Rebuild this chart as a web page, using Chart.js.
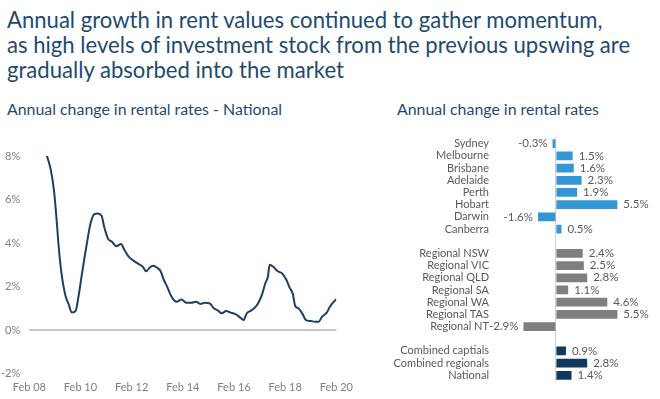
<!DOCTYPE html>
<html>
<head>
<meta charset="utf-8">
<script src="https://cdn.jsdelivr.net/npm/chart.js@4.4.1/dist/chart.umd.min.js"></script>
<style>
  body { margin: 0; background: #fff; font-family: Lato, sans-serif; }
  #page { position: relative; width: 660px; height: 399px; overflow: hidden; }
  .title { position: absolute; left: 7px; top: 7px; font-size: 22.1px; line-height: 25px; color: #1f4a70; white-space: nowrap; }
  .sub { position: absolute; top: 99px; font-size: 15.9px; color: #1f4a70; white-space: nowrap; }
  #lineBox { position: absolute; left: 0; top: 140px; width: 360px; height: 259px; }
  #barBox { position: absolute; left: 390px; top: 120px; width: 270px; height: 279px; }
</style>
</head>
<body>
<div id="page">
  <div class="title">Annual growth in rent values continued to gather momentum,<br>as high levels of investment stock from the previous upswing are<br>gradually absorbed into the market</div>
  <div class="sub" style="left:7px">Annual change in rental rates - National</div>
  <div class="sub" style="left:397px">Annual change in rental rates</div>
  <div id="lineBox"><canvas id="lineChart"></canvas></div>
  <div id="barBox"><canvas id="barChart"></canvas></div>
</div>
<script>
// months since Feb 2008 and annual change in national rents (%)
const months = [8.3, 10.1, 11.6, 12.7, 13.9, 15.1, 16.9, 18.4, 20, 21.8, 23, 24.5, 26, 27.2, 28.7, 30.5, 32, 33.9, 35.1, 36.9, 38.9,
  40.8, 43, 44.5, 46.4, 48.7, 51, 53.3, 54.8, 56.3, 58, 60.1, 61.6, 63.1, 64.6, 66.1, 67.6, 69.1, 71.4, 73.7, 76, 78.2, 80.2,
  82.3, 84.7, 86.5, 88.4, 90.3, 92.3, 94.4, 96.4, 98.6, 100.5, 102, 104, 106.2, 107.7, 109.2, 110.7, 111.9, 112.7, 114.5,
  116.5, 118.6, 120.6, 122.1, 123.6, 124.7, 126.2, 128.1, 129.7, 132, 134.2, 135.7, 137.2, 139.5, 141, 142.5, 144];
const growth = [8.0, 7.35, 6.4, 5.2, 3.7, 2.6, 1.6, 1.2, 0.8, 0.9, 1.5, 2.45, 3.4, 4.1, 4.9, 5.33, 5.36, 5.25, 4.75, 4.2, 4.05,
  3.85, 3.95, 3.7, 3.4, 3.2, 3.05, 2.9, 2.7, 2.85, 2.95, 2.85, 2.7, 2.3, 2.0, 1.65, 1.4, 1.3, 1.4, 1.25, 1.25, 1.3, 1.2,
  1.25, 1.22, 1.0, 0.9, 0.77, 0.87, 0.8, 0.74, 0.6, 0.46, 0.77, 0.89, 1.07, 1.3, 1.65, 2.15, 2.45, 3.0, 2.9,
  2.7, 2.6, 2.3, 1.95, 1.65, 1.1, 1.0, 0.74, 0.46, 0.41, 0.38, 0.38, 0.6, 0.8, 1.07, 1.27, 1.41];
const xTickLabels = ['Feb 08', 'Feb 10', 'Feb 12', 'Feb 14', 'Feb 16', 'Feb 18', 'Feb 20'];

const cityLabels = ['Sydney', 'Melbourne', 'Brisbane', 'Adelaide', 'Perth', 'Hobart', 'Darwin', 'Canberra'];
const cityValues = [-0.3, 1.5, 1.6, 2.3, 1.9, 5.5, -1.6, 0.5];
const regionalLabels = ['Regional NSW', 'Regional VIC', 'Regional QLD', 'Regional SA', 'Regional WA', 'Regional TAS', 'Regional NT'];
const regionalValues = [2.4, 2.5, 2.8, 1.1, 4.6, 5.5, -2.9];
const combinedLabels = ['Combined captials', 'Combined regionals', 'National'];
const combinedValues = [0.9, 2.8, 1.4];

const grey = '#595959';

new Chart(document.getElementById('lineChart'), {
  type: 'line',
  data: {
    datasets: [{
      data: months.map((m, i) => ({ x: m, y: growth[i] })),
      borderColor: '#1d3f62',
      borderWidth: 2,
      pointRadius: 0,
      cubicInterpolationMode: 'monotone'
    }]
  },
  options: {
    responsive: true,
    maintainAspectRatio: false,
    animation: false,
    layout: { padding: { top: 16, right: 13, bottom: 0, left: 0 } },
    plugins: { legend: { display: false }, tooltip: { enabled: false } },
    scales: {
      x: {
        type: 'linear',
        min: 0,
        max: 144,
        afterFit: scale => { scale.height = 25.5; },
        border: { display: false },
        grid: { display: false, drawTicks: false },
        ticks: {
          stepSize: 24,
          padding: 7,
          color: '#7f7f7f',
          font: { family: 'Lato', size: 11 },
          maxRotation: 0,
          callback: value => xTickLabels[value / 24]
        }
      },
      y: {
        min: -2,
        max: 8,
        afterFit: scale => { scale.width = 29.3; },
        border: { display: false },
        grid: {
          drawTicks: false,
          color: ctx => ctx.tick.value === 0 ? '#c6c6c6' : 'transparent',
          lineWidth: 2
        },
        ticks: {
          stepSize: 2,
          padding: 9,
          color: '#7f7f7f',
          font: { family: 'Lato', size: 11 },
          callback: value => value + '%'
        }
      }
    }
  }
});

// bar chart: groups separated by an empty row
const barLabels = [...cityLabels, '', ...regionalLabels, '', ...combinedLabels];
const barValues = [...cityValues, null, ...regionalValues, null, ...combinedValues];
const barColors = [
  ...cityValues.map(() => '#3397d6'),
  'transparent',
  ...regionalValues.map(() => '#7f7f7f'),
  'transparent',
  ...combinedValues.map(() => '#0f3a5e')
];

const valueLabels = {
  id: 'valueLabels',
  afterDatasetsDraw(chart) {
    const ctx = chart.ctx;
    const meta = chart.getDatasetMeta(0);
    ctx.save();
    ctx.font = '11.5px Lato';
    ctx.fillStyle = grey;
    ctx.textBaseline = 'middle';
    meta.data.forEach((bar, i) => {
      const v = barValues[i];
      if (v === null) return;
      const text = v.toFixed(1) + '%';
      if (v >= 0) {
        ctx.textAlign = 'left';
        ctx.fillText(text, bar.x + 6, bar.y);
      } else {
        ctx.textAlign = 'right';
        ctx.fillText(text, bar.x - 5, bar.y);
      }
    });
    ctx.restore();
  }
};

new Chart(document.getElementById('barChart'), {
  type: 'bar',
  data: {
    labels: barLabels,
    datasets: [{
      data: barValues,
      backgroundColor: barColors,
      barPercentage: 0.72,
      categoryPercentage: 1
    }]
  },
  options: {
    indexAxis: 'y',
    responsive: true,
    maintainAspectRatio: false,
    animation: false,
    layout: { padding: { top: 12, right: 14.7, bottom: 7.5, left: 0 } },
    plugins: { legend: { display: false }, tooltip: { enabled: false } },
    scales: {
      x: {
        min: -5,
        max: 8,
        afterFit: scale => { scale.height = 0; },
        border: { display: false },
        grid: {
          drawTicks: false,
          color: ctx => ctx.tick.value === 0 ? '#d0d0d0' : 'transparent',
          lineWidth: 1
        },
        ticks: { display: false, stepSize: 1 }
      },
      y: {
        afterFit: scale => { scale.width = 110; },
        border: { display: false },
        grid: { display: false, drawTicks: false },
        ticks: {
          padding: 11,
          color: grey,
          font: { family: 'Lato', size: 11 },
          autoSkip: false
        }
      }
    }
  },
  plugins: [valueLabels]
});
</script>
</body>
</html>
